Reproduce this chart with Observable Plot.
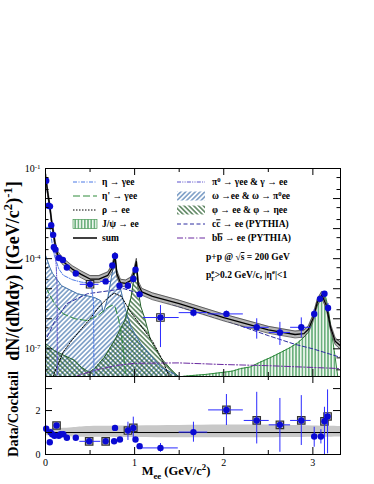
<!DOCTYPE html>
<html><head><meta charset="utf-8">
<script src="https://cdn.jsdelivr.net/npm/d3@7"></script>
<script src="https://cdn.jsdelivr.net/npm/@observablehq/plot@0.6"></script>
<style>
body{margin:0;background:#fff;}
#wrap{position:relative;width:374px;height:484px;overflow:hidden;font-family:"Liberation Serif",serif;}
#wrap > svg{position:absolute;left:0;}
</style></head><body><div id="wrap"></div>
<script>
// ---------------- data ----------------
const xDomain = [0, 3.31];
const mainYDomain = [1.2e-8, 0.1];
const ratioYDomain = [0, 3.55];

// cocktail sum
const sumM = [0.005,0.02,0.035,0.05,0.07,0.09,0.11,0.135,0.16,0.2,0.3,0.4,0.5,0.6,0.7,0.75,0.78,0.8,0.84,0.9,0.96,0.99,1.02,1.04,1.08,1.2,1.5,2.0,2.5,2.8,2.9,2.95,3.0,3.05,3.1,3.15,3.2,3.25,3.31];
const sumV = [5.0e-2,2.0e-2,1.0e-2,5.0e-3,1.6e-3,7.1e-4,2.8e-4,1.4e-4,1.1e-4,7.9e-5,4.5e-5,3.0e-5,2.1e-5,2.1e-5,2.8e-5,5.0e-5,1.26e-4,3.2e-5,1.6e-5,1.5e-5,1.9e-5,3.2e-5,7.9e-5,1.4e-5,7.9e-6,5.6e-6,3.2e-6,1.1e-6,4.3e-7,3.0e-7,3.2e-7,4.5e-7,1.0e-6,3.5e-6,6.3e-6,2.8e-6,5.0e-7,1.8e-7,1.26e-7];
const cocktailSysFactor = 1.3;

const pi0M = [0.002,0.02,0.04,0.06,0.08,0.1,0.12,0.13,0.134];
const pi0V = [4.5e-2,1.6e-2,7e-3,2.5e-3,9e-4,2.8e-4,6e-5,1.2e-5,1e-9];

const etaM = [0.002,0.05,0.06,0.08,0.1,0.15,0.2,0.3,0.4,0.47,0.52,0.54,0.545];
const etaV = [1.1e-3,1.1e-3,6.3e-4,2.5e-4,1.26e-4,4.5e-5,2.8e-5,2.0e-5,1.66e-5,1.58e-5,1.0e-5,3.2e-6,1e-9];

const etapM = [0.002,0.1,0.2,0.33,0.47,0.59,0.7,0.75,0.78,0.82,0.86,0.9,0.92];
const etapV = [1.12e-5,3.2e-6,1.45e-6,1.0e-6,8.7e-7,1.29e-6,2.4e-6,2.8e-6,2.5e-6,1.0e-6,2.0e-7,1.26e-8,1e-9];

const rhoM = [0.06,0.1,0.2,0.3,0.4,0.5,0.6,0.7,0.77,0.85,0.95,1.1,1.2,1.3,1.4];
const rhoV = [6.3e-9,1.58e-8,7.9e-8,2.0e-7,4.5e-7,1.0e-6,2.5e-6,5.0e-6,7.1e-6,5.6e-6,1.78e-6,4.5e-7,1.78e-7,5.0e-8,1.0e-8];

const omegaM = [0.002,0.05,0.08,0.18,0.36,0.55,0.62,0.648,0.66,0.70,0.74,0.76,0.782,0.80,0.83,0.89,0.96,1.07,1.29,1.52];
const omegaV = [1.26e-4,5.0e-5,3.2e-5,1.26e-5,6.8e-6,5.1e-6,4.0e-6,1.66e-6,2.0e-6,5.1e-6,2.4e-5,5.0e-5,8.5e-5,4.0e-5,1.45e-5,2.4e-6,5.2e-7,1.48e-7,2.5e-8,1.12e-8];

const phiM = [0.002,0.1,0.21,0.33,0.40,0.46,0.49,0.55,0.66,0.775,0.89,0.96,0.99,1.005,1.02,1.04,1.07,1.11,1.18,1.29,1.40,1.5];
const phiV = [1.48e-7,8.7e-8,6.0e-8,4.1e-8,2.45e-8,1.9e-8,1.66e-8,2.2e-8,5.2e-8,1.9e-7,8.7e-7,5.1e-6,2.0e-5,5.0e-5,7.1e-5,8.7e-6,2.5e-6,1.12e-6,1.9e-7,5.2e-8,2.2e-8,1.12e-8];

const psiM = [1.44,1.6,1.8,2.0,2.1,2.19,2.3,2.4,2.53,2.64,2.75,2.83,2.9,2.95,2.98,3.03,3.06,3.09,3.11,3.13,3.15,3.17,3.2,3.24,3.28];
const psiV = [1.12e-8,1.26e-8,1.41e-8,1.66e-8,1.82e-8,2.2e-8,2.5e-8,3.5e-8,5.2e-8,7.6e-8,1.12e-7,1.58e-7,2.45e-7,4.0e-7,6.8e-7,2.1e-6,3.5e-6,5.1e-6,6.3e-6,6.8e-6,4.5e-6,2.4e-6,5.2e-7,8.7e-8,1.15e-8];

const ccM = [0.02,0.1,0.24,0.47,0.73,0.88,1.1,1.5,2.0,2.5,2.8,3.0,3.31];
const ccV = [2.5e-7,7.9e-7,3.2e-6,6.8e-6,8.7e-6,1.0e-5,6.3e-6,2.5e-6,9.1e-7,2.75e-7,1.41e-7,1.0e-7,5.2e-8];

const bbM = [0.2,0.4,0.6,0.8,1.0,1.5,2.0,2.5,3.0,3.31];
const bbV = [7.9e-9,1.41e-8,2.1e-8,2.8e-8,3.3e-8,3.4e-8,3.0e-8,2.75e-8,2.4e-8,2.2e-8];

// measured spectrum
const dataM  = [0.008,0.035,0.05,0.064,0.086,0.094,0.112,0.15,0.195,0.24,0.34,0.50,0.675,0.75,0.78,0.83,0.925,0.985,1.01,1.056,1.29,1.66,2.03,2.37,2.63,2.87,3.015,3.08,3.13,3.17];
const dataV  = [3.9e-2,5.8e-3,5.5e-3,1.3e-3,6.2e-4,2.4e-4,2.0e-4,1.05e-4,9.1e-5,5.1e-5,3.2e-5,1.4e-5,1.75e-5,5.9e-5,1.23e-4,1.26e-5,1.26e-5,2.1e-5,4.3e-5,6.5e-6,1.1e-6,1.6e-6,1.45e-6,5.2e-7,3.5e-7,5.2e-7,1.45e-6,4.6e-6,6.8e-6,2.3e-6];
const dataLo = [3.6e-2,5.4e-3,5.1e-3,1.2e-3,5.7e-4,2.2e-4,1.8e-4,9.5e-5,8.3e-5,4.6e-5,2.8e-5,1.1e-5,1.5e-5,5.3e-5,1.12e-4,1.05e-5,1.0e-5,1.6e-5,3.8e-5,5.2e-6,1.1e-7,1.15e-6,1.1e-6,2.1e-7,1.3e-7,2.3e-7,1.0e-6,3.7e-6,5.7e-6,1.6e-6];
const dataHi = [4.2e-2,6.2e-3,5.9e-3,1.4e-3,6.7e-4,2.6e-4,2.2e-4,1.15e-4,1.0e-4,5.6e-5,3.6e-5,1.8e-5,2.0e-5,6.5e-5,1.35e-4,1.5e-5,1.6e-5,2.7e-5,4.9e-5,8.0e-6,2.75e-6,2.1e-6,1.8e-6,1.0e-6,7.6e-7,1.07e-6,2.0e-6,5.6e-6,8.0e-6,3.2e-6];
const dataBinLo = [null,null,null,null,null,null,null,null,null,null,null,0.39,0.62,null,null,null,null,null,null,null,1.10,1.50,1.83,2.23,2.51,2.75,null,null,null,null];
const dataBinHi = [null,null,null,null,null,null,null,null,null,null,null,0.60,0.73,null,null,null,null,null,null,null,1.50,1.82,2.22,2.51,2.75,2.98,null,null,null,null];
const dataSysBox = [0.50, 1.29];

// data / cocktail
const ratioM  = [0.008,0.048,0.056,0.075,0.10,0.124,0.15,0.17,0.2,0.24,0.34,0.49,0.675,0.77,0.78,0.835,0.925,0.985,1.01,1.056,1.29,1.66,2.03,2.37,2.63,2.87,3.015,3.09,3.13,3.165];
const ratioV  = [1.17,0.56,1.01,0.92,0.85,1.32,0.85,0.92,0.92,0.76,0.76,0.60,0.60,0.60,1.21,0.68,1.09,1.21,0.68,0.38,0.30,1.02,2.03,1.55,1.35,1.55,0.82,0.82,1.51,1.73];
const ratioLo = [1.10,0.50,0.95,0.87,0.80,1.25,0.80,0.87,0.86,0.70,0.68,0.45,0.50,0.52,1.10,0.60,0.64,0.71,0.62,0.30,0.10,0.56,1.32,0.48,0.10,0.41,0.33,0.48,0.0,0.03];
const ratioHi = [1.24,0.62,1.07,0.97,0.90,1.39,0.90,0.97,0.98,0.82,0.84,0.75,0.70,0.68,1.32,0.76,1.47,1.70,0.74,0.46,0.50,1.47,2.73,2.83,2.55,2.68,1.24,1.13,2.15,2.94];
const ratioBinLo = [null,null,null,null,null,null,null,null,null,null,null,0.385,null,null,null,null,null,null,null,null,1.07,1.50,1.83,2.23,2.51,2.75,null,null,null,null];
const ratioBinHi = [null,null,null,null,null,null,null,null,null,null,null,0.62,null,null,null,null,null,null,null,null,1.49,1.82,2.22,2.51,2.75,2.98,null,null,null,null];
const ratioSysBox = [0.124,0.49,0.675,0.925,0.985,2.03,2.37,2.63,2.87,3.13,3.165];

const ratioBandM  = [0,0.3,0.5,1.0,1.5,2.0,2.5,3.0,3.31];
const ratioBandLo = [0.85,0.80,0.78,0.77,0.76,0.76,0.76,0.78,0.80];
const ratioBandHi = [1.15,1.22,1.28,1.30,1.32,1.34,1.34,1.30,1.28];

// ticks
const mainYLabelTicks = [1e-1,1e-4,1e-7];
const mainYMajor = [1e-1,1e-2,1e-3,1e-4,1e-5,1e-6,1e-7];
const mainYMinor = [5e-2,2e-2,5e-3,2e-3,5e-4,2e-4,5e-5,2e-5,5e-6,2e-6,5e-7,2e-7,5e-8,2e-8];
const xMajor = [0,1,2,3];
const xMinor = [0.5,1.5,2.5];
const ratioYLabelTicks = [0,2];
const ratioYMajor = [1,2,3];

// ---------------- helpers ----------------
const rows = (ms, vs) => ms.map((m, i) => ({m, v: vs[i]}));
const W = 374, ML = 45, MR = 34;
const frameW = W - ML - MR;
const MAIN_H = 376, MAIN_TOP = 168;
const RATIO_H = 484 - 376, RATIO_BOTTOM = 30;
const mainFrameH = MAIN_H - MAIN_TOP;
const ratioFrameH = RATIO_H - RATIO_BOTTOM;
const BLUE = "#0a0ad2", EBLUE = "#2a2aff";
const baseline = () => 1e-10;

const wrap = d3.select("#wrap");

// hatch patterns
const defSvg = wrap.append("svg").attr("width", 0).attr("height", 0);
const defs = defSvg.append("defs");
function hatch(id, angle, color, size, sw, bg) {
  const p = defs.append("pattern").attr("id", id).attr("patternUnits", "userSpaceOnUse")
    .attr("width", size).attr("height", size).attr("patternTransform", `rotate(${angle})`);
  if (bg) p.append("rect").attr("width", size).attr("height", size).attr("fill", bg);
  p.append("line").attr("x1", size / 2).attr("x2", size / 2).attr("y1", 0).attr("y2", size)
    .attr("stroke", color).attr("stroke-width", sw);
}
hatch("hOmega", 45, "#4a78b0", 3.4, 1.15, null);
hatch("hPhi", -45, "#235a28", 3.4, 1.15, null);
hatch("hPsi", 0, "#4fa064", 3.2, 1.3, "#eef7ef");

const lineStyles = {
  eta:  {stroke: "#4a78e6", strokeDasharray: "4,1.5,1,1.5", strokeWidth: 1},
  etap: {stroke: "#2e8b3a", strokeDasharray: "7,3", strokeWidth: 1},
  rho:  {stroke: "#000", strokeDasharray: "1.5,1.5", strokeWidth: 1},
  pi0:  {stroke: "#5a50cc", strokeDasharray: "4,1.3,1,1.3,1,1.3", strokeWidth: 1},
  cc:   {stroke: "#2d2da0", strokeDasharray: "4,2.5", strokeWidth: 1},
  bb:   {stroke: "#6a2aa0", strokeDasharray: "6,2,1.2,2", strokeWidth: 1}
};

function insideTicks(k, values, len, fh) {
  if (k === "y") return [
    Plot.tickY(values, {y: d => d, insetRight: frameW - len, stroke: "#000"}),
    Plot.tickY(values, {y: d => d, insetLeft: frameW - len, stroke: "#000"})
  ];
  return [
    Plot.tickX(values, {x: d => d, insetTop: fh - len, stroke: "#000"}),
    Plot.tickX(values, {x: d => d, insetBottom: fh - len, stroke: "#000"})
  ];
}

// ---------------- main panel ----------------
const sumRows = rows(sumM, sumV);
const dataRows = dataM.map((m, i) => ({m, v: dataV[i], lo: dataLo[i], hi: dataHi[i], xlo: dataBinLo[i], xhi: dataBinHi[i]}));

const mainSvg = Plot.plot({
  width: W, height: MAIN_H, marginTop: MAIN_TOP, marginBottom: 0, marginLeft: ML, marginRight: MR,
  style: {background: "transparent", fontFamily: "'Liberation Serif', serif", fontSize: "10px", color: "#000"},
  x: {domain: xDomain, axis: null},
  y: {type: "log", domain: mainYDomain, axis: null},
  marks: [
    Plot.areaY(rows(omegaM, omegaV), {x: "m", y1: baseline, y2: "v", fill: "url(#hOmega)", clip: true}),
    Plot.areaY(rows(phiM, phiV), {x: "m", y1: baseline, y2: "v", fill: "url(#hPhi)", clip: true}),
    Plot.areaY(rows(psiM, psiV), {x: "m", y1: baseline, y2: "v", fill: "url(#hPsi)", clip: true}),
    Plot.lineY(rows(omegaM, omegaV), {x: "m", y: "v", stroke: "#3d6fa8", strokeWidth: 1, clip: true}),
    Plot.lineY(rows(phiM, phiV), {x: "m", y: "v", stroke: "#24602a", strokeWidth: 1, clip: true}),
    Plot.lineY(rows(psiM, psiV), {x: "m", y: "v", stroke: "#2f8a3c", strokeWidth: 1, clip: true}),
    Plot.lineY(rows(bbM, bbV), {x: "m", y: "v", ...lineStyles.bb, clip: true}),
    Plot.lineY(rows(ccM, ccV), {x: "m", y: "v", ...lineStyles.cc, clip: true}),
    Plot.lineY(rows(rhoM, rhoV), {x: "m", y: "v", ...lineStyles.rho, clip: true}),
    Plot.lineY(rows(etapM, etapV), {x: "m", y: "v", ...lineStyles.etap, clip: true}),
    Plot.lineY(rows(etaM, etaV), {x: "m", y: "v", ...lineStyles.eta, clip: true}),
    Plot.lineY(rows(pi0M, pi0V), {x: "m", y: "v", ...lineStyles.pi0, clip: true}),
    Plot.areaY(sumRows, {x: "m", y1: d => d.v / cocktailSysFactor, y2: d => d.v * cocktailSysFactor, fill: "#b6b6b6", clip: true}),
    Plot.lineY(sumRows, {x: "m", y: d => d.v / cocktailSysFactor, stroke: "#333", strokeWidth: 0.7, clip: true}),
    Plot.lineY(sumRows, {x: "m", y: d => d.v * cocktailSysFactor, stroke: "#333", strokeWidth: 0.7, clip: true}),
    Plot.lineY(sumRows, {x: "m", y: "v", stroke: "#000", strokeWidth: 1.3, clip: true}),
    Plot.dot(dataRows.filter(d => dataSysBox.includes(d.m)), {x: "m", y: "v", symbol: "square", r: 4.2, stroke: "#222", strokeWidth: 1.1, fill: "#fff", clip: true}),
    Plot.ruleX(dataRows, {x: "m", y1: "lo", y2: "hi", stroke: EBLUE, strokeWidth: 1, clip: true}),
    Plot.ruleY(dataRows.filter(d => d.xlo != null), {y: "v", x1: "xlo", x2: "xhi", stroke: EBLUE, strokeWidth: 1, clip: true}),
    Plot.dot(dataRows, {x: "m", y: "v", r: 3.2, fill: BLUE, stroke: "none", clip: true}),
    ...insideTicks("y", mainYMajor, 7),
    ...insideTicks("y", mainYMinor, 3.5),
    ...insideTicks("x", xMajor, 7, mainFrameH),
    ...insideTicks("x", xMinor, 4, mainFrameH),
    Plot.axisY(mainYLabelTicks, {anchor: "left", tickSize: 0, tickPadding: 5, label: null, fontSize: 10,
      tickFormat: d => "10^" + Math.round(Math.log10(d))}),
    Plot.frame({stroke: "#000", strokeWidth: 1})
  ]
});
mainSvg.style.top = "0px";
wrap.node().appendChild(mainSvg);
// superscript exponents in tick labels
d3.select(mainSvg).selectAll("text").each(function () {
  const t = d3.select(this), s = t.text();
  const m = /^10\^(-?\d+)$/.exec(s.replace("\u2212", "-"));
  if (m) {
    t.text("10");
    t.append("tspan").attr("dy", "-0.45em").attr("font-size", "7px").text(m[1]);
  }
});

// ---------------- ratio panel ----------------
const ratioRows = ratioM.map((m, i) => ({m, v: ratioV[i], lo: ratioLo[i], hi: ratioHi[i], xlo: ratioBinLo[i], xhi: ratioBinHi[i]}));
const bandRows = ratioBandM.map((m, i) => ({m, lo: ratioBandLo[i], hi: ratioBandHi[i]}));

const ratioSvg = Plot.plot({
  width: W, height: RATIO_H, marginTop: 0, marginBottom: RATIO_BOTTOM, marginLeft: ML, marginRight: MR,
  style: {background: "transparent", fontFamily: "'Liberation Serif', serif", fontSize: "10px", color: "#000"},
  x: {domain: xDomain, axis: null},
  y: {domain: ratioYDomain, axis: null},
  marks: [
    Plot.areaY(bandRows, {x: "m", y1: "lo", y2: "hi", fill: "#c8c8c8", curve: "natural"}),
    Plot.ruleY([1], {stroke: "#000", strokeWidth: 1}),
    Plot.dot(ratioRows.filter(d => ratioSysBox.includes(d.m)), {x: "m", y: "v", symbol: "square", r: 4.2, stroke: "#333", strokeWidth: 1.2, fill: "#cfcfcf"}),
    Plot.ruleX(ratioRows, {x: "m", y1: "lo", y2: "hi", stroke: EBLUE, strokeWidth: 1, clip: true}),
    Plot.ruleY(ratioRows.filter(d => d.xlo != null), {y: "v", x1: "xlo", x2: "xhi", stroke: EBLUE, strokeWidth: 1}),
    Plot.dot(ratioRows, {x: "m", y: "v", r: 3.2, fill: BLUE, stroke: "none"}),
    ...insideTicks("y", ratioYMajor, 7),
    ...insideTicks("x", xMajor, 7, ratioFrameH),
    ...insideTicks("x", xMinor, 4, ratioFrameH),
    Plot.axisY(ratioYLabelTicks, {anchor: "left", tickSize: 0, tickPadding: 5, label: null, fontSize: 10}),
    Plot.axisX(xMajor, {anchor: "bottom", tickSize: 0, tickPadding: 4, label: null, fontSize: 10}),
    Plot.frame({stroke: "#000", strokeWidth: 1})
  ]
});
ratioSvg.style.top = MAIN_H + "px";
wrap.node().appendChild(ratioSvg);

// ---------------- overlay: legend and titles ----------------
const ov = wrap.append("svg").attr("width", W).attr("height", 484).style("top", "0px")
  .style("font-family", "'Liberation Serif', serif").style("pointer-events", "none");

function rich(sel, str, size) {
  const parts = str.split(/(\^\{[^}]*\}|_\{[^}]*\}|~\{[^}]*\}|`\{[^}]*\})/).filter(s => s.length);
  let shift = 0, prevLen = 0;
  for (const p of parts) {
    let kind = null, txt = p;
    if (/^[\^_~`]\{/.test(p)) { kind = p[0]; txt = p.slice(2, -1); }
    const t = sel.append("tspan").text(txt);
    const target = kind === "^" ? -0.38 * size : (kind === "_" || kind === "`") ? 0.28 * size : 0;
    t.attr("dy", target - shift); shift = target;
    if (kind === "^" || kind === "_" || kind === "`") t.attr("font-size", size * 0.7);
    if (kind === "`") t.attr("dx", -0.42 * size * prevLen);
    if (kind === "~") t.style("text-decoration", "overline");
    prevLen = txt.length;
  }
}

const LEG_FS = 9.5;
const legendLeft = [
  {label: "η → γee", kind: "line", style: lineStyles.eta},
  {label: "η' → γee", kind: "line", style: lineStyles.etap},
  {label: "ρ → ee", kind: "line", style: lineStyles.rho},
  {label: "J/ψ → ee", kind: "fill", fill: "url(#hPsi)", stroke: "#2f8a3c"},
  {label: "sum", kind: "line", style: {stroke: "#000", strokeWidth: 1.5}}
];
const legendRight = [
  {label: "π^{0} → γee & γ → ee", kind: "line", style: lineStyles.pi0},
  {label: "ω →ee & ω → π^{0}ee", kind: "fill", fill: "url(#hOmega)", stroke: null},
  {label: "φ → ee & φ → ηee", kind: "fill", fill: "url(#hPhi)", stroke: null},
  {label: "c~{c} → ee (PYTHIA)", kind: "line", style: lineStyles.cc},
  {label: "b~{b} → ee (PYTHIA)", kind: "line", style: lineStyles.bb}
];
const legRowY = [182, 196, 210, 224, 238];
function drawLegend(items, x0, x1, tx) {
  items.forEach((it, i) => {
    const y = legRowY[i];
    if (it.kind === "line") {
      const s = it.style;
      ov.append("line").attr("x1", x0).attr("x2", x1).attr("y1", y).attr("y2", y)
        .attr("stroke", s.stroke).attr("stroke-width", s.strokeWidth || 1)
        .attr("stroke-dasharray", s.strokeDasharray || null);
    } else {
      ov.append("rect").attr("x", x0).attr("y", y - 4.5).attr("width", x1 - x0).attr("height", 9)
        .attr("fill", it.fill).attr("stroke", it.stroke || "none").attr("stroke-width", 0.6);
    }
    const t = ov.append("text").attr("x", tx).attr("y", y + 3.3).attr("font-size", LEG_FS).attr("font-weight", "bold");
    rich(t, it.label, LEG_FS);
  });
}
drawLegend(legendLeft, 73, 97, 102);
drawLegend(legendRight, 177, 205, 212);

const t1 = ov.append("text").attr("x", 206).attr("y", 260).attr("font-size", 9.5).attr("font-weight", "bold");
rich(t1, "p+p @ √~{s} = 200 GeV", 9.5);
const t2 = ov.append("text").attr("x", 206).attr("y", 278).attr("font-size", 9.5).attr("font-weight", "bold");
rich(t2, "p^{e}`{T}>0.2 GeV/c, |η^{e}|<1", 9.5);

// axis titles
const yt = ov.append("text").attr("transform", "translate(19,271) rotate(-90)").attr("text-anchor", "middle")
  .attr("font-size", 18).attr("font-weight", "bold");
rich(yt, "dN/(dMdy) [(GeV/c^{2})^{-1}]", 18);
const rt = ov.append("text").attr("transform", "translate(18,414) rotate(-90)").attr("text-anchor", "middle")
  .attr("font-size", 14.5).attr("font-weight", "bold");
rich(rt, "Data/Cocktail", 14.5);
const xt = ov.append("text").attr("x", 176).attr("y", 475).attr("text-anchor", "middle")
  .attr("font-size", 12.5).attr("font-weight", "bold");
rich(xt, "M_{ee} (GeV/c^{2})", 12.5);
</script></body></html>
